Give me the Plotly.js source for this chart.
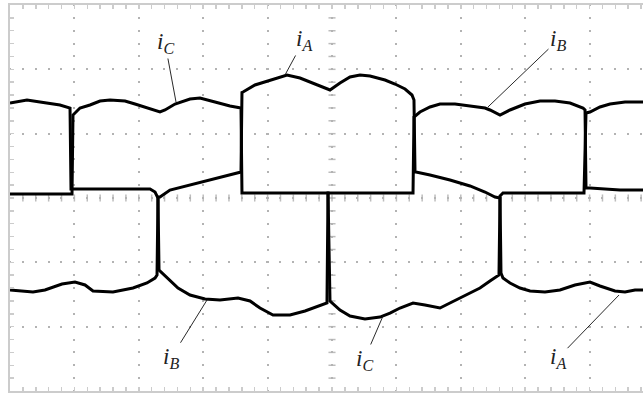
<!DOCTYPE html>
<html>
<head>
<meta charset="utf-8">
<script src="https://cdn.plot.ly/plotly-3.0.1.min.js"></script>
<style>
  html, body { margin: 0; padding: 0; overflow: hidden; background: #ffffff; }
  #chart { width: 660px; height: 393px; }
</style>
</head>
<body>
<div id="chart"></div>
<script>
// Time axis and current axis in screen divisions (oscilloscope graticule)
const iA_t = [0, 0.155, 0.357, 0.543, 0.807, 1.009, 1.165, 1.289, 1.599, 1.910, 2.127, 2.252, 2.283,
  2.298, 2.329, 2.484, 2.795, 3.106, 3.416, 3.587,
  3.602, 3.618, 3.804, 4.037, 4.301, 4.503, 4.658, 4.814, 4.969, 5.124, 5.280, 5.435, 5.590, 5.823, 5.978, 6.134, 6.242, 6.273,
  6.289, 6.304, 6.522, 6.832, 7.143, 7.376, 7.531, 7.609,
  7.624, 7.655, 7.764, 7.919, 8.075, 8.307, 8.540, 8.773, 9.006, 9.161, 9.394, 9.550, 9.705, 9.860];
const iA_v = [-1.430, -1.446, -1.461, -1.430, -1.337, -1.306, -1.352, -1.446, -1.461, -1.399, -1.321, -1.244, -1.197,
  0.016, 0.016, 0.124, 0.202, 0.280, 0.358, 0.404,
  1.640, 1.648, 1.757, 1.834, 1.912, 1.865, 1.803, 1.741, 1.679, 1.788, 1.881, 1.912, 1.897, 1.834, 1.772, 1.694, 1.601, 1.523,
  0.404, 0.404, 0.358, 0.280, 0.187, 0.093, 0.016, 0.0,
  -1.166, -1.244, -1.321, -1.399, -1.446, -1.461, -1.430, -1.352, -1.306, -1.368, -1.446, -1.461, -1.430, -1.430];

const iB_t = [0, 0.264, 0.466, 0.776, 0.932, 0.947, 1.087, 2.174, 2.252, 2.298,
  2.314, 2.453, 2.609, 2.795, 3.028, 3.261, 3.540, 3.727, 3.882, 4.084, 4.348, 4.581, 4.814, 4.922,
  4.938, 5.124, 6.258,
  6.273, 6.366, 6.522, 6.677, 6.910, 7.143, 7.376, 7.453, 7.609, 7.764, 7.997, 8.230, 8.463, 8.696, 8.897, 8.929,
  8.944, 9.006, 9.472, 9.860];
const iB_v = [1.477, 1.523, 1.492, 1.446, 1.399, 0.140, 0.140, 0.140, 0.093, 0.0,
  -1.119, -1.244, -1.399, -1.508, -1.570, -1.586, -1.555, -1.601, -1.710, -1.819, -1.819, -1.757, -1.679, -1.632,
  0.078, 0.078, 0.078,
  1.259, 1.337, 1.415, 1.461, 1.461, 1.430, 1.399, 1.368, 1.290, 1.368, 1.461, 1.508, 1.508, 1.477, 1.399, 1.368,
  0.155, 0.155, 0.124, 0.124];

const iC_t = [0, 0.932, 0.963,
  0.978, 1.087, 1.242, 1.398, 1.553, 1.786, 1.941, 2.096, 2.329, 2.407, 2.562, 2.795, 2.950, 3.183, 3.416, 3.587,
  3.602, 3.727, 4.938,
  4.969, 5.124, 5.280, 5.512, 5.745, 5.901, 6.056, 6.258, 6.444, 6.677, 6.832, 6.988, 7.143, 7.298, 7.453, 7.593,
  7.609, 7.655, 8.913,
  8.944, 9.006, 9.161, 9.317, 9.550, 9.860];
const iC_v = [0.062, 0.062, 0.062,
  1.290, 1.399, 1.446, 1.508, 1.523, 1.508, 1.461, 1.415, 1.337, 1.368, 1.461, 1.539, 1.554, 1.492, 1.430, 1.399,
  0.078, 0.078, 0.078,
  -1.601, -1.741, -1.834, -1.881, -1.850, -1.788, -1.710, -1.632, -1.663, -1.710, -1.632, -1.555, -1.477, -1.399, -1.290, -1.197,
  0.031, 0.078, 0.078,
  1.321, 1.337, 1.415, 1.461, 1.492, 1.492];

// Curve labels and the point on the curve each one points to
const labelNames = ['C', 'A', 'B', 'B', 'C', 'A'];
const labelTipT = [2.578, 4.270, 7.422, 3.059, 5.792, 9.457];
const labelTipV = [1.492, 1.912, 1.415, -1.586, -1.834, -1.508];

const lineStyle = { color: '#000000', width: 3 };
const traces = [
  { x: iA_t, y: iA_v, name: 'iA' },
  { x: iB_t, y: iB_v, name: 'iB' },
  { x: iC_t, y: iC_v, name: 'iC' }
].map(t => Object.assign(t, { type: 'scatter', mode: 'lines', line: lineStyle, hoverinfo: 'skip' }));

const labelOffsets = [[-11, -59], [19, -35], [70, -67], [-36, 58], [-19, 44], [-61, 63]];
const annotations = labelNames.map((n, k) => ({
  x: labelTipT[k], y: labelTipV[k], xref: 'x', yref: 'y',
  text: '<i>i</i><sub><i>' + n + '</i></sub>',
  showarrow: true, arrowhead: 0, arrowwidth: 0.9, arrowcolor: '#111111',
  ax: labelOffsets[k][0], ay: labelOffsets[k][1], standoff: 0,
  font: { family: 'Liberation Serif, DejaVu Serif, serif', size: 23, color: '#222222' }
}));

// Graticule centre cross ticks
const shapes = [];
const tickCol = '#bdbdbd';
for (let k = 1; k < 50; k++) {
  shapes.push({ type: 'line', xref: 'x', yref: 'y', x0: k * 0.2, x1: k * 0.2, y0: -0.055, y1: 0.055,
    line: { color: tickCol, width: 1.5 }, layer: 'below' });
}
for (let k = 1; k < 30; k++) {
  shapes.push({ type: 'line', xref: 'x', yref: 'y', x0: 4.945, x1: 5.055, y0: -3 + k * 0.2, y1: -3 + k * 0.2,
    line: { color: tickCol, width: 1.5 }, layer: 'below' });
}

const frameCol = '#cccccc';
const axisCommon = {
  showticklabels: false, zeroline: false,
  showline: true, linecolor: frameCol, linewidth: 2, mirror: 'ticks',
  ticks: 'inside', ticklen: 4, tickwidth: 1.5, tickcolor: frameCol,
  showgrid: true, gridcolor: '#b3b3b3', gridwidth: 2, griddash: '1px,10.87px,1px,0px',
  minor: { dtick: 0.2, ticks: 'inside', ticklen: 4, tickwidth: 1.5, tickcolor: frameCol, showgrid: false },
  fixedrange: true
};

const layout = {
  width: 660, height: 393,
  margin: { l: 10, r: 6, t: 5, b: 2 },
  paper_bgcolor: '#ffffff', plot_bgcolor: '#ffffff',
  showlegend: false,
  xaxis: Object.assign({}, axisCommon, { range: [0, 10], dtick: 1, tick0: 0 }),
  yaxis: Object.assign({}, axisCommon, { range: [-3, 3], dtick: 1, tick0: 0 }),
  annotations: annotations,
  shapes: shapes
};

Plotly.newPlot('chart', traces, layout, { displayModeBar: false, staticPlot: true });
</script>
</body>
</html>
